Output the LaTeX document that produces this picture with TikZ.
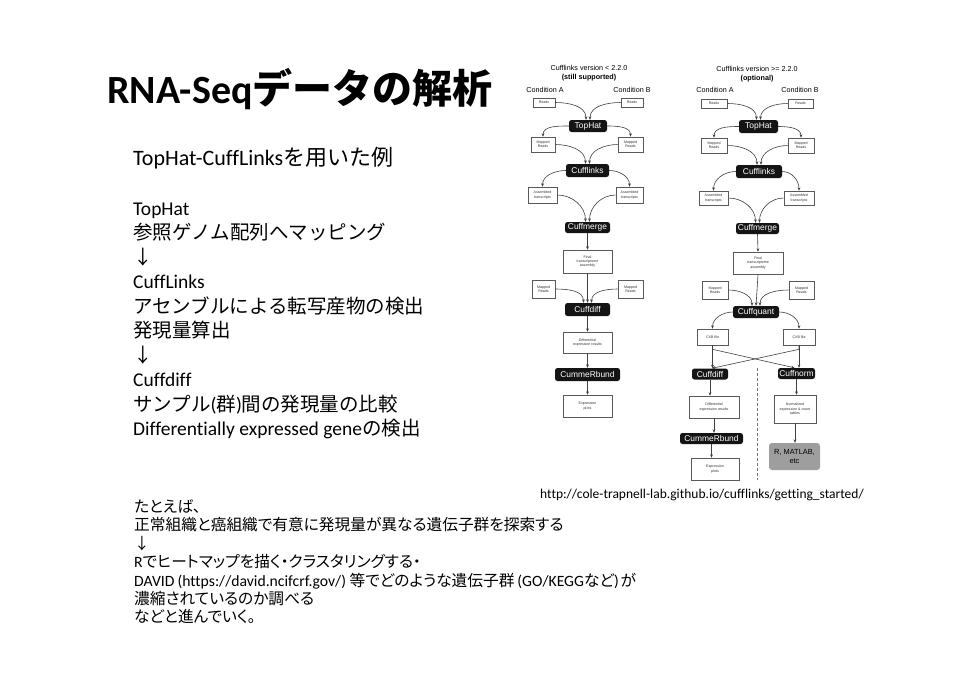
\documentclass[tikz,border=0pt]{standalone}
\usepackage{fontspec}
\setmainfont{Carlito}[Ligatures={NoCommon}]
\newfontfamily\jp{Noto Sans CJK JP}
\newfontfamily\jpp{Noto Sans CJK JP}[RawFeature=+palt]
\newfontfamily\hv{Liberation Sans}
\usetikzlibrary{arrows.meta}
\newcommand\J[1]{{\jp #1}}
\newcommand\JP[1]{{\jpp #1}}

\begin{document}
\begin{tikzpicture}[x=1pt,y=1pt,
  prog/.style={fill=black!92, rounded corners=2.5pt, text=white,
    font=\hv\fontsize{8.4}{9}\selectfont, inner sep=0pt},
  dbox/.style={draw=black!65, line width=0.6pt, fill=white, align=center,
    inner sep=0pt, font=\hv\fontsize{3.6}{4.3}\selectfont, text=black!80},
  arr/.style={draw=black!75, line width=0.6pt, -{Stealth[length=3.4pt,width=2.8pt]}},
  hdr/.style={font=\hv\fontsize{7.2}{8}\selectfont, inner sep=0pt},
  ln/.style={anchor=base west, inner sep=0pt},
  body/.style={ln, font=\fontsize{19.5}{24}\selectfont},
  note/.style={ln, font=\fontsize{15.7}{18}\selectfont},
]
\fill[white] (0,0) rectangle (960,-678);
\useasboundingbox (0,0) rectangle (960,-678);

% ---------- slide title and text ----------
\node[ln, font=\fontsize{40}{45}\selectfont\bfseries] (title) at (107,-103) {RNA-Seq\J{データの解析}};

\node[ln, font=\fontsize{22}{26}\selectfont] (t0) at (133,-165.5) {TopHat-CuffLinks\J{を用いた例}};
\node[body] (t1) at (133,-215) {TopHat};
\node[body] (t2) at (133,-239.5) {\J{参照ゲノム配列へマッピング}};
\node[body] (t3) at (133,-264) {\J{↓}};
\node[body] (t4) at (133,-288.5) {CuffLinks};
\node[body] (t5) at (133,-313) {\J{アセンブルによる転写産物の検出}};
\node[body] (t6) at (133,-337.5) {\J{発現量算出}};
\node[body] (t7) at (133,-362) {\J{↓}};
\node[body] (t8) at (133,-386.5) {Cuffdiff};
\node[body] (t9) at (133,-411) {\J{サンプル}(\J{群})\J{間の発現量の比較}};
\node[body] (t10) at (133,-435.5) {Differentially expressed gene\J{の検出}};

\node[note] (n0) at (134,-512.5) {\JP{たとえば、}};
\node[note] (n1) at (134,-530.9) {\JP{正常組織と癌組織で有意に発現量が異なる遺伝子群を探索する}};
\node[note] (n2) at (134,-549.3) {\JP{↓}};
\node[note] (n3) at (134,-567.7) {R\JP{でヒートマップを描く・クラスタリングする・}};
\node[note] (n4) at (134,-586.1) {DAVID\kern3pt(https://david.ncifcrf.gov/)\kern3.5pt\JP{等でどのような遺伝子群}\kern3pt(GO/KEGG\JP{など})\kern2pt\JP{が}};
\node[note] (n5) at (134,-604.5) {\JP{濃縮されているのか調べる}};
\node[note] (n6) at (134,-622.9) {\JP{などと進んでいく。}};

\node[ln, font=\fontsize{13.5}{15}\selectfont] (url) at (540,-498) {http://cole-trapnell-lab.github.io/cufflinks/getting\_started/};

% ---------- workflow, Cufflinks < 2.2.0 ----------
\node[hdr] (hdA) at (589,-68) {Cufflinks version < 2.2.0};
\node[hdr, font=\hv\bfseries\fontsize{7.2}{8}\selectfont] (hdA2) at (589,-78) {(still supported)};
\node[hdr] (cAa) at (545,-90) {Condition A};
\node[hdr] (cAb) at (632,-90) {Condition B};

\node[dbox, minimum width=22pt, minimum height=9pt] (rA1) at (544,-102.5) {Reads};
\node[dbox, minimum width=22pt, minimum height=9pt] (rB1) at (632,-102.5) {Reads};
\node[prog, minimum width=38pt, minimum height=12pt] (th1) at (588,-126) {TopHat};
\node[dbox, minimum width=24pt, minimum height=15pt] (mA1) at (543,-144.5) {Mapped\\Reads};
\node[dbox, minimum width=25pt, minimum height=15pt] (mB1) at (630.5,-144.5) {Mapped\\Reads};
\node[prog, minimum width=43pt, minimum height=13pt] (cl1) at (587.5,-170.5) {Cufflinks};
\node[dbox, minimum width=29pt, minimum height=16pt] (aA1) at (542.5,-195) {Assembled\\transcripts};
\node[dbox, minimum width=27pt, minimum height=16pt] (aB1) at (629.5,-195) {Assembled\\transcripts};
\node[prog, minimum width=45pt, minimum height=11pt] (cm1) at (587.5,-227.5) {Cuffmerge};
\node[dbox, minimum width=49pt, minimum height=23pt] (fin1) at (587.5,-261.5) {Final\\transcriptome\\assembly};
\node[dbox, minimum width=23pt, minimum height=18pt] (mA1b) at (543.5,-289) {Mapped\\Reads};
\node[dbox, minimum width=25pt, minimum height=18pt] (mB1b) at (630.5,-289) {Mapped\\Reads};
\node[prog, minimum width=45pt, minimum height=13pt] (cd1) at (587.5,-309.5) {Cuffdiff};
\node[dbox, minimum width=49pt, minimum height=21pt] (dif1) at (587.5,-342.5) {Differential\\expression results};
\node[prog, minimum width=65pt, minimum height=13pt] (crb1) at (587.5,-374.5) {CummeRbund};
\node[dbox, minimum width=49pt, minimum height=22pt] (exp1) at (587.5,-406) {Expression\\plots};

\draw[arr] (rA1.east) to[out=0,in=90] ([xshift=-2pt]th1.north);
\draw[arr] (rB1.west) to[out=180,in=90] ([xshift=2pt]th1.north);
\draw[arr] (th1.west) to[out=180,in=90] (mA1.north);
\draw[arr] (th1.east) to[out=0,in=90] (mB1.north);
\draw[arr] (mA1.east) to[out=0,in=90] ([xshift=-2pt]cl1.north);
\draw[arr] (mB1.west) to[out=180,in=90] ([xshift=2pt]cl1.north);
\draw[arr] (cl1.west) to[out=180,in=90] (aA1.north);
\draw[arr] (cl1.east) to[out=0,in=90] (aB1.north);
\draw[arr] (aA1.east) to[out=0,in=90] ([xshift=-2pt]cm1.north);
\draw[arr] (aB1.west) to[out=180,in=90] ([xshift=2pt]cm1.north);
\draw[arr] (cm1.south) -- (fin1.north);
\draw[arr] (fin1.south) -- (cd1.north);
\draw[arr] (mA1b.east) to[out=0,in=90] ([xshift=-4pt]cd1.north);
\draw[arr] (mB1b.west) to[out=180,in=90] ([xshift=4pt]cd1.north);
\draw[arr] (cd1.south) -- (dif1.north);
\draw[arr] (dif1.south) -- (crb1.north);
\draw[arr] (crb1.south) -- (exp1.north);

% ---------- workflow, Cufflinks >= 2.2.0 ----------
\node[hdr] (hdB) at (757,-69) {Cufflinks version >= 2.2.0};
\node[hdr, font=\hv\bfseries\fontsize{7.2}{8}\selectfont] (hdB2) at (757,-79) {(optional)};
\node[hdr] (cBa) at (715,-90) {Condition A};
\node[hdr] (cBb) at (800,-90) {Condition B};

\node[dbox, minimum width=26pt, minimum height=9pt] (rA2) at (714,-103.5) {Reads};
\node[dbox, minimum width=25pt, minimum height=9pt] (rB2) at (800.5,-103.5) {Reads};
\node[prog, minimum width=39pt, minimum height=13pt] (th2) at (758.5,-126.5) {TopHat};
\node[dbox, minimum width=26pt, minimum height=15pt] (mA2) at (714,-145.5) {Mapped\\Reads};
\node[dbox, minimum width=26pt, minimum height=15pt] (mB2) at (801,-145.5) {Mapped\\Reads};
\node[prog, minimum width=46pt, minimum height=13pt] (cl2) at (759,-171.5) {Cufflinks};
\node[dbox, minimum width=29pt, minimum height=14pt] (aA2) at (713.5,-198) {Assembled\\transcripts};
\node[dbox, minimum width=30pt, minimum height=14pt] (aB2) at (799,-198) {Assembled\\transcripts};
\node[prog, minimum width=43pt, minimum height=11pt] (cm2) at (757.5,-228.5) {Cuffmerge};
\node[dbox, minimum width=50pt, minimum height=22pt] (fin2) at (758,-263) {Final\\transcriptome\\assembly};
\node[dbox, minimum width=26pt, minimum height=18pt] (mA2b) at (715,-290) {Mapped\\Reads};
\node[dbox, minimum width=25pt, minimum height=18pt] (mB2b) at (801.5,-290) {Mapped\\Reads};
\node[prog, minimum width=46pt, minimum height=12pt] (cq2) at (756,-312) {Cuffquant};
\node[dbox, minimum width=31pt, minimum height=16pt] (xA2) at (712.5,-337) {CXB file};
\node[dbox, minimum width=32pt, minimum height=16pt] (xB2) at (799,-337) {CXB file};
\node[prog, minimum width=36pt, minimum height=11pt] (cd2) at (710,-374) {Cuffdiff};
\node[prog, minimum width=37pt, minimum height=11pt] (cn2) at (796.5,-373.5) {Cuffnorm};
\node[dbox, minimum width=50pt, minimum height=22pt] (dif2) at (714,-407) {Differential\\expression results};
\node[prog, minimum width=63pt, minimum height=11pt] (crb2) at (711.5,-438.5) {CummeRbund};
\node[dbox, minimum width=48pt, minimum height=22pt] (exp2) at (715,-469) {Expression\\plots};
\node[dbox, minimum width=42pt, minimum height=28pt] (nrm2) at (795,-409) {Normalized\\expression \& count\\tables};
\node[fill=black!38, rounded corners=3pt, minimum width=51pt, minimum height=27pt,
  inner sep=0pt, align=center, font=\hv\fontsize{7.4}{9}\selectfont] (oth2) at (794.5,-456.5) {R, MATLAB,\\etc};

\draw[arr] (rA2.east) to[out=0,in=90] ([xshift=-2pt]th2.north);
\draw[arr] (rB2.west) to[out=180,in=90] ([xshift=2pt]th2.north);
\draw[arr] (th2.west) to[out=180,in=90] (mA2.north);
\draw[arr] (th2.east) to[out=0,in=90] (mB2.north);
\draw[arr] (mA2.east) to[out=0,in=90] ([xshift=-2pt]cl2.north);
\draw[arr] (mB2.west) to[out=180,in=90] ([xshift=2pt]cl2.north);
\draw[arr] (cl2.west) to[out=180,in=90] (aA2.north);
\draw[arr] (cl2.east) to[out=0,in=90] (aB2.north);
\draw[arr] (aA2.east) to[out=0,in=90] ([xshift=-2pt]cm2.north);
\draw[arr] (aB2.west) to[out=180,in=90] ([xshift=2pt]cm2.north);
\draw[arr] (cm2.south) -- (fin2.north);
\draw[arr] (fin2.south) -- (cq2.north);
\draw[arr] (mA2b.east) to[out=0,in=90] ([xshift=-4pt]cq2.north);
\draw[arr] (mB2b.west) to[out=180,in=90] ([xshift=4pt]cq2.north);
\draw[arr] (cq2.west) to[out=180,in=90] (xA2.north);
\draw[arr] (cq2.east) to[out=0,in=90] (xB2.north);
\draw[arr] (xA2.south) -- (xA2.south |- cd2.north);
\draw[arr] (xB2.south) -- (xB2.south |- cn2.north);
\draw[arr] (xA2.south) -- ++(0,-4) -- ([xshift=-2pt]cn2.north);
\draw[arr] (xB2.south) -- ++(0,-4) -- ([xshift=2pt]cd2.north);
\draw[arr] (cd2.south) -- (cd2.south |- dif2.north);
\draw[arr] (dif2.south) -- (dif2.south |- crb2.north);
\draw[arr] (crb2.south) -- (crb2.south |- exp2.north);
\draw[arr] (cn2.south) -- (cn2.south |- nrm2.north);
\draw[arr] (nrm2.south) -- (nrm2.south |- oth2.north);

\coordinate (sepTop) at (757,-368);
\coordinate (sepBot) at (757,-480);
\draw[black!55, line width=0.6pt, dash pattern=on 3pt off 2pt] (sepTop) -- (sepBot);
\end{tikzpicture}
\end{document}
